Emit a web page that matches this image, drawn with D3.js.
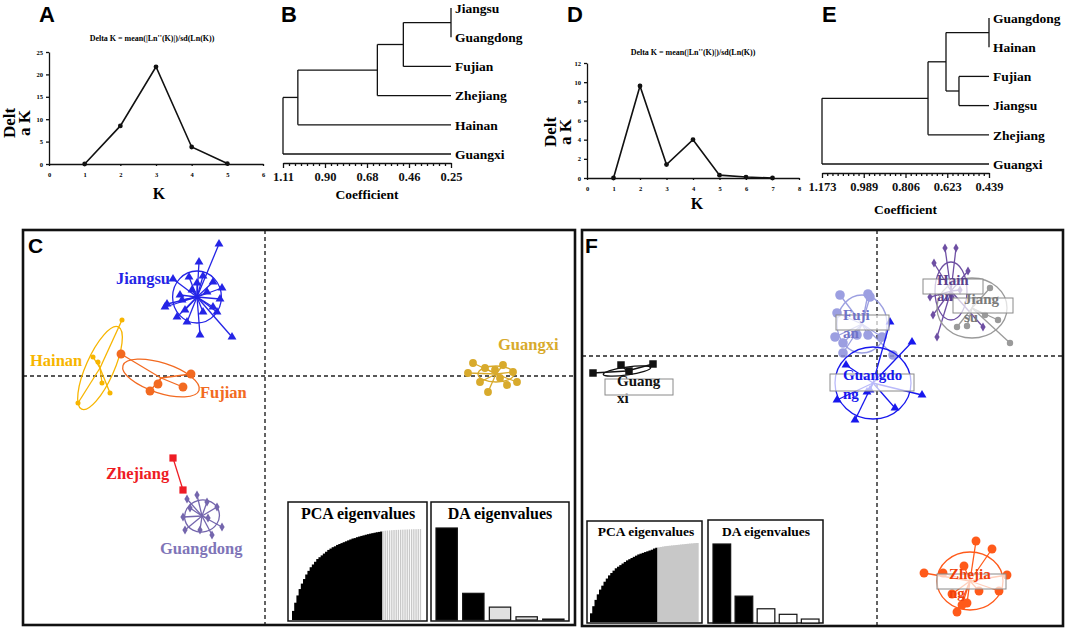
<!DOCTYPE html>
<html>
<head>
<meta charset="utf-8">
<script src="https://cdn.jsdelivr.net/npm/d3@7"></script>
<style>
  body { margin: 0; background: #fff; }
</style>
</head>
<body>
<div id="chart"></div>
<script>
// ---------- data ----------
// Delta K (Evanno) curves
const kA = [1, 2, 3, 4, 5];
const deltaKA = [0, 8.5, 21.7, 3.8, 0.1];
const kD = [1, 2, 3, 4, 5, 6, 7];
const deltaKD = [0, 9.6, 1.4, 4.0, 0.3, 0.1, 0.0];

// dendrograms: merges are [clusterA, clusterB, coefficient], new clusters numbered after leaves
const leavesB = ["Jiangsu", "Guangdong", "Fujian", "Zhejiang", "Hainan", "Guangxi"];
const mergesB = [[0, 1, 0.25], [6, 2, 0.494], [7, 3, 0.627], [8, 4, 1.034], [9, 5, 1.11]];
const ticksB = [1.11, 0.895, 0.68, 0.465, 0.25];
const tickLabelsB = ["1.11", "0.90", "0.68", "0.46", "0.25"];

const leavesE = ["Guangdong", "Hainan", "Fujian", "Jiangsu", "Zhejiang", "Guangxi"];
const mergesE = [[0, 1, 0.439], [2, 3, 0.571], [6, 7, 0.628], [8, 4, 0.707], [9, 5, 1.173]];
const ticksE = [1.173, 0.9895, 0.806, 0.6225, 0.439];
const tickLabelsE = ["1.173", "0.989", "0.806", "0.623", "0.439"];

// DAPC scatter, panel C (LD1, LD2)
const jiangsuC = [[-2.3, 6.6], [-3.3, 5.7], [-4.6, 4.85], [-3.8, 4.95], [-3.1, 5.0], [-2.6, 4.7],
  [-2.15, 4.4], [-2.25, 3.85], [-4.9, 3.6], [-5.0, 3.45], [-4.15, 3.8], [-4.4, 2.95], [-3.9, 2.7],
  [-3.25, 2.05], [-1.65, 1.95], [-2.6, 3.45], [-2.9, 4.2], [-3.65, 4.3], [-4.25, 4.05], [-2.4, 3.2],
  [-4.0, 3.3], [-3.1, 3.2], [-3.4, 4.65]];
const hainanC = [[-7.15, 2.8], [-8.6, 0.95], [-8.35, 0.7], [-8.15, -0.35], [-7.75, -0.85], [-9.35, -1.35]];
const fujianC = [[-7.2, 1.1], [-3.7, 0.1], [-5.35, -0.4], [-4.1, -0.55], [-5.75, -0.75]];
const guangxiC = [[10.4, 0.65], [10.15, 0.15], [10.75, -0.3], [11.15, -0.8], [11.5, 0.3], [11.9, 0.55],
  [12.4, 0.2], [12.6, -0.3], [12.1, -0.45], [11.75, -0.1], [11.0, 0.4]];
const zhejiangC = [[-4.6, -4.1], [-4.1, -5.7]];
const guangdongC = [[-3.9, -6.15], [-3.4, -5.95], [-2.9, -6.3], [-2.4, -6.55], [-2.15, -7.55], [-2.65, -7.95],
  [-3.25, -7.7], [-4.0, -7.7], [-4.1, -7.05], [-3.75, -6.6], [-2.85, -7.1]];
// group centres and inertia ellipses [rx, ry, angle]
const centersC = [[-3.4, 3.95], [-8.25, 0.4], [-5.2, -0.1], [11.55, 0.1], [-4.35, -4.9], [-3.15, -7.0]];
const ellipsesC = [[1.22, 1.3, 0], [2.25, 0.7, -66], [2.0, 0.75, 18], [0.9, 0.4, 0], [0, 0, 0], [0.875, 0.8, -15]];

// DAPC scatter, panel F
const guangxiF = [[-14.2, -0.85], [-12.8, -0.45], [-12.4, -0.75], [-11.2, -0.4]];
const fujianF = [[-1.85, 3.05], [-0.45, 3.1], [-0.35, 2.95], [-2.0, 2.15], [-2.1, 0.95], [-1.7, 0.65],
  [-1.7, 0.15], [-1.0, 1.05], [-0.45, 1.05], [0.25, 0.95], [0.8, 0.05]];
const guangdongF = [[1.75, 0.7], [0.65, 1.7], [-1.55, -0.45], [-2.0, -2.2], [-1.1, -3.2], [0.9, -2.6],
  [2.25, -1.95], [-0.5, -1.8], [-0.35, -1.7]];
const hainanF = [[3.4, 5.4], [3.95, 5.4], [2.85, 4.65], [4.55, 4.25], [2.65, 2.95], [2.8, 2.05],
  [3.0, 0.95], [5.3, 1.45], [3.75, 2.95], [4.15, 3.3]];
const jiangsuF = [[5.65, 3.4], [6.05, 1.8], [6.65, 0.65], [4.5, 1.5], [4.0, 1.45], [4.9, 2.8], [5.4, 2.05]];
const zhejiangF = [[4.95, -9.25], [5.75, -9.65], [2.35, -10.85], [3.3, -10.85], [4.35, -10.5], [6.5, -10.95],
  [3.75, -11.9], [5.1, -11.75], [6.1, -11.75], [4.25, -12.45], [4.0, -12.8], [4.5, -12.35]];
const centersF = [[-12.5, -0.75], [-0.75, 1.6], [-0.2, -1.35], [3.7, 3.25], [4.75, 2.4], [4.65, -11.25]];
const ellipsesF = [[1.2, 0.2, -8], [1.25, 1.45, 0], [1.9, 1.8, 0], [0.8, 1.45, 0], [1.75, 1.5, 0], [1.65, 1.45, 0]];
const labelLinesF = [["Guang", "xi"], ["Fuji", "an"], ["Guangdo", "ng"], ["Hain", "an"], ["Jiang", "su"], ["Zhejia", "ng"]];

// eigenvalue insets (cumulative PCA share retained / not retained, DA eigenvalues)
const pcaKeptC = [0.10, 0.19, 0.27, 0.34, 0.40, 0.45, 0.50, 0.54, 0.58, 0.61, 0.64, 0.67, 0.69, 0.71,
  0.73, 0.75, 0.77, 0.785, 0.80, 0.81, 0.825, 0.835, 0.845, 0.855, 0.865, 0.875, 0.885, 0.895, 0.90,
  0.91, 0.917, 0.924, 0.93, 0.937, 0.943, 0.949, 0.954, 0.959, 0.964, 0.968, 0.972];
const pcaRestC = [0.978, 0.981, 0.983, 0.985, 0.987, 0.989, 0.99, 0.991, 0.992, 0.993, 0.994, 0.995,
  0.996, 0.997, 0.998, 0.998, 0.999, 1.0];
const daC = [1.0, 0.29, 0.14, 0.035, 0.01];
const pcaKeptF = [0.11, 0.20, 0.28, 0.35, 0.41, 0.46, 0.51, 0.55, 0.59, 0.62, 0.65, 0.68, 0.70, 0.72,
  0.74, 0.76, 0.78, 0.795, 0.81, 0.825, 0.84, 0.855, 0.865, 0.875, 0.885, 0.895, 0.905, 0.915, 0.93, 0.94];
const pcaRestF = [0.945, 0.95, 0.955, 0.96, 0.963, 0.966, 0.969, 0.972, 0.975, 0.978, 0.981, 0.984,
  0.987, 0.99, 0.993, 0.995, 0.998, 1.0];
const daF = [1.0, 0.34, 0.18, 0.11, 0.05];

// ---------- setup ----------
const width = 1065, height = 630;
const SERIF = "'Liberation Serif','Times New Roman',serif";
const SANS = "'Liberation Sans',Arial,sans-serif";

const svg = d3.select("#chart").append("svg")
  .attr("width", width).attr("height", height)
  .style("font-family", SERIF);

const panelLetter = (txt, x, y, size) =>
  svg.append("text").attr("x", x).attr("y", y).text(txt)
    .style("font-family", SANS).style("font-weight", "bold").style("font-size", size + "px");

// ---------- delta K panels ----------
function drawDelta(ks, vals, o) {
  const x = d3.scaleLinear().domain([0, o.xMax]).range([o.left, o.right]);
  const y = d3.scaleLinear().domain([0, o.yMax]).range([o.bottom, o.top]);
  const g = svg.append("g");

  const xa = g.append("g").attr("transform", `translate(0,${o.bottom})`)
    .call(d3.axisBottom(x).tickValues(d3.range(0, o.xMax + 1)).tickFormat(d3.format("d"))
      .tickSize(2).tickSizeOuter(0).tickPadding(6));
  const ya = g.append("g").attr("transform", `translate(${o.left},0)`)
    .call(d3.axisLeft(y).tickValues(o.yTicks).tickFormat(d3.format("d"))
      .tickSize(3).tickSizeOuter(0).tickPadding(3));
  [xa, ya].forEach(a => {
    a.selectAll("path,line").attr("stroke", "#111").attr("stroke-width", 1.3);
    a.selectAll("text").style("font-family", SERIF).style("font-size", "6.5px").style("font-weight", "bold");
  });

  const pts = ks.map((k, i) => [k, vals[i]]);
  g.append("path").datum(pts)
    .attr("fill", "none").attr("stroke", "#111").attr("stroke-width", 1.6)
    .attr("d", d3.line().x(d => x(d[0])).y(d => y(d[1])));
  g.selectAll(".dot").data(pts).join("circle")
    .attr("class", "dot").attr("r", 2.4)
    .attr("cx", d => x(d[0])).attr("cy", d => y(d[1])).attr("fill", "#111");

  g.append("text").attr("x", o.titleX).attr("y", o.titleY).attr("text-anchor", "middle")
    .style("font-size", "8px").style("font-weight", "bold")
    .text("Delta K = mean(|Ln''(K)|)/sd(Ln(K))");

  ["Delt", "a K"].forEach((t, i) => {
    g.append("text")
      .attr("transform", `translate(${o.ylabX + i * 15},${o.ylabY}) rotate(-90)`)
      .attr("text-anchor", "middle")
      .style("font-size", "17px").style("font-weight", "bold").text(t);
  });
  g.append("text").attr("x", o.klabX).attr("y", o.klabY).attr("text-anchor", "middle")
    .style("font-size", "16px").style("font-weight", "bold").text("K");
}

drawDelta(kA, deltaKA, {
  left: 49, right: 263, top: 52, bottom: 164, xMax: 6, yMax: 25, yTicks: [0, 5, 10, 15, 20, 25],
  titleX: 152, titleY: 41, ylabX: 15, ylabY: 123, klabX: 159, klabY: 199
});
drawDelta(kD, deltaKD, {
  left: 587, right: 799, top: 63, bottom: 178, xMax: 8, yMax: 12, yTicks: [0, 2, 4, 6, 8, 10, 12],
  titleX: 693, titleY: 55, ylabX: 556, ylabY: 132, klabX: 697, klabY: 209
});

// ---------- dendrograms ----------
function drawDendro(leaves, merges, ticks, tickLabels, nMinor, fmtSize, o) {
  const x = d3.scaleLinear().domain([ticks[0], ticks[ticks.length - 1]]).range([o.left, o.right]);
  const yLeaf = d3.scalePoint().domain(d3.range(leaves.length)).range([o.top, o.bottom]);
  const g = svg.append("g");
  const nodes = leaves.map((n, i) => ({ x: x(ticks[ticks.length - 1]), y: yLeaf(i) }));
  const segs = [];
  merges.forEach(([a, b, h]) => {
    const A = nodes[a], B = nodes[b], nx = x(h);
    segs.push([nx, A.y, nx, B.y], [nx, A.y, A.x, A.y], [nx, B.y, B.x, B.y]);
    nodes.push({ x: nx, y: (A.y + B.y) / 2 });
  });
  g.selectAll(".seg").data(segs).join("line")
    .attr("x1", d => d[0]).attr("y1", d => d[1]).attr("x2", d => d[2]).attr("y2", d => d[3])
    .attr("stroke", "#111").attr("stroke-width", 1.3);

  g.selectAll(".leaf").data(leaves).join("text")
    .attr("x", x(ticks[ticks.length - 1]) + 4).attr("y", (d, i) => yLeaf(i))
    .attr("dy", "0.35em")
    .style("font-size", "13.5px").style("font-weight", "bold").text(d => d);

  // axis
  const minors = [];
  for (let i = 0; i < ticks.length - 1; i++) {
    for (let j = 1; j < nMinor; j++) minors.push(ticks[i] + (ticks[i + 1] - ticks[i]) * j / nMinor);
  }
  const ax = g.append("g").attr("transform", `translate(0,${o.axisY})`)
    .call(d3.axisBottom(x).tickValues(ticks).tickSize(5).tickSizeOuter(0).tickPadding(4)
      .tickFormat((d, i) => tickLabels[i]));
  const axm = g.append("g").attr("transform", `translate(0,${o.axisY})`)
    .call(d3.axisBottom(x).tickValues(minors).tickSize(3).tickSizeOuter(0).tickFormat(""));
  axm.select(".domain").remove();
  [ax, axm].forEach(a => a.selectAll("path,line").attr("stroke", "#111").attr("stroke-width", 1.3));
  ax.selectAll("text").style("font-family", SERIF).style("font-size", fmtSize + "px")
    .style("font-weight", "bold").attr("fill", "#111");
  g.append("text").attr("x", (o.left + o.right) / 2).attr("y", o.coefY).attr("text-anchor", "middle")
    .style("font-size", "13.5px").style("font-weight", "bold").text("Coefficient");
}

drawDendro(leavesB, mergesB, ticksB, tickLabelsB, 7, 12.5,
  { left: 283, right: 451, top: 8, bottom: 154, axisY: 163, coefY: 199 });
drawDendro(leavesE, mergesE, ticksE, tickLabelsE, 8, 12.5,
  { left: 822, right: 989, top: 18, bottom: 164, axisY: 173, coefY: 214 });

// ---------- DAPC scatter panels ----------
function drawScatter(box, xDom, yDom, groups, centers, ellipses, styles) {
  const x = d3.scaleLinear().domain(xDom).range([box.x0, box.x1]);
  const y = d3.scaleLinear().domain(yDom).range([box.y1, box.y0]);
  const g = svg.append("g");

  g.append("line").attr("x1", x(0)).attr("x2", x(0)).attr("y1", box.y0).attr("y2", box.y1)
    .attr("stroke", "#222").attr("stroke-width", 1.4).attr("stroke-dasharray", "4,3");
  g.append("line").attr("y1", y(0)).attr("y2", y(0)).attr("x1", box.x0).attr("x2", box.x1)
    .attr("stroke", "#222").attr("stroke-width", 1.4).attr("stroke-dasharray", "4,3");

  groups.forEach((pts, gi) => {
    const st = styles[gi], c = centers[gi], e = ellipses[gi];
    const gg = g.append("g").attr("opacity", st.opacity || 1);
    if (e[0] > 0) {
      gg.append("ellipse")
        .attr("transform", `translate(${x(c[0])},${y(c[1])}) rotate(${e[2]})`)
        .attr("rx", x(e[0]) - x(0)).attr("ry", x(e[1]) - x(0))
        .attr("fill", "none").attr("stroke", st.color).attr("stroke-width", 1.3);
    }
    gg.selectAll(".spoke").data(pts).join("line")
      .attr("x1", x(c[0])).attr("y1", y(c[1]))
      .attr("x2", d => x(d[0])).attr("y2", d => y(d[1]))
      .attr("stroke", st.color).attr("stroke-width", 1.3);
    gg.selectAll(".pt").data(pts).join("path")
      .attr("transform", d => `translate(${x(d[0])},${y(d[1])})`)
      .attr("d", d3.symbol().type(st.shape).size(st.size))
      .attr("fill", st.color);
  });

  g.append("rect").attr("x", box.x0).attr("y", box.y0)
    .attr("width", box.x1 - box.x0).attr("height", box.y1 - box.y0)
    .attr("fill", "none").attr("stroke", "#111").attr("stroke-width", 2.6);
  return { x, y, g };
}

const boxC = { x0: 23, x1: 575, y0: 230, y1: 625 };
const boxF = { x0: 582, x1: 1063, y0: 230, y1: 626 };

const stylesC = [
  { name: "Jiangsu", color: "#2424e6", shape: d3.symbolTriangle, size: 34 },
  { name: "Hainan", color: "#f7b500", shape: d3.symbolCircle, size: 20 },
  { name: "Fujian", color: "#f26a21", shape: d3.symbolCircle, size: 62 },
  { name: "Guangxi", color: "#d8aa2c", shape: d3.symbolCircle, size: 48 },
  { name: "Zhejiang", color: "#ee1c24", shape: d3.symbolSquare, size: 52 },
  { name: "Guangdong", color: "#7466ad", shape: d3.symbolDiamond, size: 24 }
];
const labelPosC = [[-4.75, 4.6, "end"], [-11.75, 0.5, "start"], [-3.25, -1.1, "start"],
  [11.65, 1.3, "start"], [-7.95, -5.15, "start"], [-5.25, -8.9, "start"]];

const sc = drawScatter(boxC, [-12.1, 15.5], [-12.45, 7.3],
  [jiangsuC, hainanC, fujianC, guangxiC, zhejiangC, guangdongC], centersC, ellipsesC, stylesC);
sc.g.selectAll(".lab").data(stylesC).join("text")
  .attr("x", (d, i) => sc.x(labelPosC[i][0])).attr("y", (d, i) => sc.y(labelPosC[i][1]))
  .attr("text-anchor", (d, i) => labelPosC[i][2])
  .attr("fill", d => d.name === "Guangdong" ? "#7f75b8" : d.color)
  .style("font-size", "16.5px").style("font-weight", "bold").text(d => d.name);

const stylesF = [
  { name: "Guangxi", color: "#111", text: "#111", shape: d3.symbolSquare, size: 56 },
  { name: "Fujian", color: "#8b8fdc", text: "#6f72c8", shape: d3.symbolCircle, size: 72, opacity: 0.85 },
  { name: "Guangdong", color: "#1818ee", text: "#1818ee", shape: d3.symbolTriangle, size: 34 },
  { name: "Hainan", color: "#6e4fa3", text: "#5a3f8c", shape: d3.symbolDiamond, size: 24 },
  { name: "Jiangsu", color: "#9a9a9a", text: "#7a7a7a", shape: d3.symbolCircle, size: 32 },
  { name: "Zhejiang", color: "#ff5a1a", text: "#f0400a", shape: d3.symbolCircle, size: 62 }
];
// label boxes [x0, x1, yTop, yBottom] and text [x, baseline1, baseline2], in LD units
const labelBoxF = [[-13.6, -10.2, -1.15, -1.95], [-2.05, 0.6, 2.05, 1.3], [-2.35, 1.85, -0.9, -1.75],
  [2.3, 5.3, 3.85, 3.1], [3.8, 6.8, 2.9, 2.15], [3.0, 6.45, -10.9, -11.65]];
const labelTextF = [[-13.0, -1.5, -2.35], [-1.7, 1.8, 0.9], [-1.7, -1.2, -2.15],
  [3.0, 3.55, 2.75], [4.35, 2.6, 1.7], [3.6, -11.15, -12.1]];

const sf = drawScatter(boxF, [-14.75, 9.3], [-13.5, 6.3],
  [guangxiF, fujianF, guangdongF, hainanF, jiangsuF, zhejiangF], centersF, ellipsesF, stylesF);
stylesF.forEach((st, i) => {
  const b = labelBoxF[i], t = labelTextF[i], lines = labelLinesF[i];
  const lg = sf.g.append("g").style("font-size", "15px").style("font-weight", "bold");
  lg.append("text").attr("x", sf.x(t[0])).attr("y", sf.y(t[2])).attr("fill", st.text).text(lines[1]);
  lg.append("rect").attr("x", sf.x(b[0])).attr("y", sf.y(b[2]))
    .attr("width", sf.x(b[1]) - sf.x(b[0])).attr("height", sf.y(b[3]) - sf.y(b[2]))
    .attr("fill", "#fff").attr("fill-opacity", 0.7).attr("stroke", "#8a8a8a").attr("stroke-width", 1);
  lg.append("text").attr("x", sf.x(t[0])).attr("y", sf.y(t[1])).attr("fill", st.text).text(lines[0]);
});

// ---------- eigenvalue insets ----------
function drawPca(kept, rest, o) {
  const all = kept.concat(rest);
  const x = d3.scaleBand().domain(d3.range(all.length)).range([o.bx0, o.bx1]).padding(0);
  const y = d3.scaleLinear().domain([0, 1]).range([o.base, o.top]);
  const g = svg.append("g");
  g.append("rect").attr("x", o.x0).attr("y", o.y0).attr("width", o.x1 - o.x0).attr("height", o.y1 - o.y0)
    .attr("fill", "#fff").attr("stroke", "#111").attr("stroke-width", 1.5);
  // draw retained bars slightly wider so neighbours overlap and read as a solid block
  g.selectAll(".bar").data(all).join("rect")
    .attr("x", (d, i) => x(i))
    .attr("width", (d, i) => i < kept.length - 1 ? x.bandwidth() + 1.2
      : i < kept.length ? x.bandwidth() : x.bandwidth() * o.restW)
    .attr("y", d => y(d)).attr("height", d => y(0) - y(d))
    .attr("fill", (d, i) => i < kept.length ? "#000" : "#c8c8c8");
  g.append("text").attr("x", o.titleX).attr("y", o.titleY).attr("text-anchor", "middle")
    .style("font-size", o.fs + "px").style("font-weight", "bold").text("PCA eigenvalues");
}

function drawDa(vals, fills, o) {
  const x = d3.scaleBand().domain(d3.range(vals.length)).range([o.bx0, o.bx1]).paddingInner(0.2);
  const y = d3.scaleLinear().domain([0, 1]).range([o.base, o.top]);
  const g = svg.append("g");
  g.append("rect").attr("x", o.x0).attr("y", o.y0).attr("width", o.x1 - o.x0).attr("height", o.y1 - o.y0)
    .attr("fill", "#fff").attr("stroke", "#111").attr("stroke-width", 1.5);
  g.selectAll(".bar").data(vals).join("rect")
    .attr("x", (d, i) => x(i)).attr("width", x.bandwidth())
    .attr("y", d => y(d)).attr("height", d => y(0) - y(d))
    .attr("fill", (d, i) => fills[i]).attr("stroke", "#111").attr("stroke-width", 1.2);
  g.append("text").attr("x", o.titleX).attr("y", o.titleY).attr("text-anchor", "middle")
    .style("font-size", o.fs + "px").style("font-weight", "bold").text("DA eigenvalues");
}

drawPca(pcaKeptC, pcaRestC, { x0: 288, x1: 427, y0: 502, y1: 621, bx0: 292, bx1: 422, base: 620, top: 529,
  restW: 0.6, titleX: 358, titleY: 519, fs: 16 });
drawDa(daC, ["#000", "#000", "#e0e0e0", "#e0e0e0", "#e0e0e0"],
  { x0: 431, x1: 569, y0: 502, y1: 621, bx0: 436, bx1: 564, base: 620, top: 528, titleX: 500, titleY: 519, fs: 16 });
drawPca(pcaKeptF, pcaRestF, { x0: 587, x1: 702, y0: 521, y1: 623, bx0: 590, bx1: 698, base: 622, top: 543,
  restW: 1.3, titleX: 646, titleY: 536, fs: 13.5 });
drawDa(daF, ["#000", "#000", "#fff", "#fff", "#fff"],
  { x0: 708, x1: 823, y0: 520, y1: 623, bx0: 713, bx1: 819, base: 623, top: 544, titleX: 766, titleY: 536, fs: 13.5 });

// ---------- panel letters ----------
panelLetter("A", 39, 22, 22);
panelLetter("B", 281, 22, 22);
panelLetter("D", 567, 22, 22);
panelLetter("E", 822, 22, 22);
panelLetter("C", 28, 253, 21);
panelLetter("F", 585, 253, 21);
</script>
</body>
</html>
